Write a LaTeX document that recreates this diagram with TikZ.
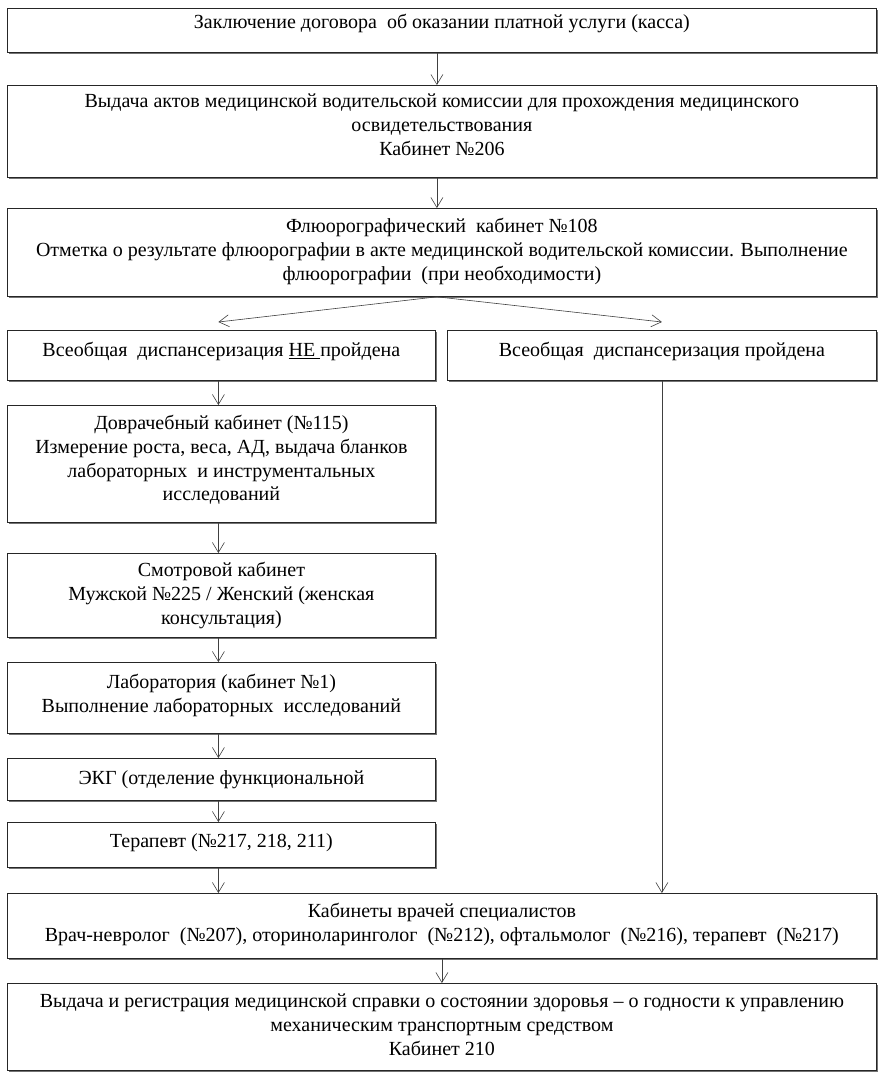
\documentclass[tikz,border=0pt]{standalone}
\usepackage{fontspec}
\setmainfont{Liberation Serif}
\usetikzlibrary{arrows.meta,shadows}
\begin{document}
\begin{tikzpicture}[x=1pt,y=-1pt,
  box/.style={draw=black!85, line width=0.8pt, fill=white, rectangle, inner sep=0pt, anchor=north west,
    drop shadow={shadow xshift=1.2pt, shadow yshift=-1.2pt, fill=black!55, opacity=1}},
  txt/.style={anchor=north, align=center, inner sep=0pt, font=\fontsize{20}{23.8}\selectfont},
  arr/.style={draw=black!75, line width=0.6pt, -{Straight Barb[length=10pt,width=12pt]}}]
\useasboundingbox (0,0) rectangle (883,1080);
\fill[white] (0,0) rectangle (883,1080);
% boxes
\node[box, minimum width=869pt, minimum height=44pt] (b1) at (7,8) {};
\node[box, minimum width=869pt, minimum height=92pt] (b2) at (7,85) {};
\node[box, minimum width=869pt, minimum height=88pt] (b3) at (7,208) {};
\node[box, minimum width=428pt, minimum height=50pt] (l1) at (7,330) {};
\node[box, minimum width=429pt, minimum height=50pt] (r1) at (447,330) {};
\node[box, minimum width=428pt, minimum height=117pt] (l2) at (7,405) {};
\node[box, minimum width=428pt, minimum height=84pt] (l3) at (7,553) {};
\node[box, minimum width=428pt, minimum height=71pt] (l4) at (7,662) {};
\node[box, minimum width=428pt, minimum height=42pt] (l5) at (7,758) {};
\node[box, minimum width=428pt, minimum height=45pt] (l6) at (7,822) {};
\node[box, minimum width=869pt, minimum height=65pt] (sp) at (7,893) {};
\node[box, minimum width=869pt, minimum height=87pt] (fin) at (7,983) {};
% texts
\node[txt] (t1) at ([yshift=-6pt]b1.north) {Заключение договора \ об оказании платной услуги (касса)};
\node[txt] (t2) at ([yshift=-9pt]b2.north) {Выдача актов медицинской водительской комиссии для прохождения медицинского\\освидетельствования\\Кабинет №206};
\node[txt] (t3) at ([yshift=-10pt]b3.north) {Флюорографический \ кабинет №108\\Отметка о результате флюорографии в акте медицинской водительской комиссии. Выполнение\\флюорографии \ (при необходимости)};
\node[txt] (tl1) at ([yshift=-12pt]l1.north) {Всеобщая \ диспансеризация \underline{НЕ\ }пройдена};
\node[txt] (tr1) at ([yshift=-12pt]r1.north) {Всеобщая \ диспансеризация пройдена};
\node[txt] (tl2) at ([yshift=-10pt]l2.north) {Доврачебный кабинет (№115)\\Измерение роста, веса, АД, выдача бланков\\лабораторных \ и инструментальных\\исследований};
\node[txt] (tl3) at ([yshift=-9pt]l3.north) {Смотровой кабинет\\Мужской №225 / Женский (женская\\консультация)};
\node[txt] (tl4) at ([yshift=-12pt]l4.north) {Лаборатория (кабинет №1)\\Выполнение лабораторных \ исследований};
\node[txt] (tl5) at ([yshift=-12pt]l5.north) {ЭКГ (отделение функциональной};
\node[txt] (tl6) at ([yshift=-11pt]l6.north) {Терапевт (№217, 218, 211)};
\node[txt] (tsp) at ([yshift=-10pt]sp.north) {Кабинеты врачей специалистов\\Врач-невролог \ (№207), оториноларинголог \ (№212), офтальмолог \ (№216), терапевт \ (№217)};
\node[txt] (tfin) at ([yshift=-11pt]fin.north) {Выдача и регистрация медицинской справки о состоянии здоровья – о годности к управлению\\механическим транспортным средством\\Кабинет 210};
% connectors
\coordinate (c1) at ([xshift=-5pt]b1.south);
\coordinate (c2) at ([xshift=-5pt]b2.south);
\coordinate (c3) at ([xshift=-5pt]b3.south);
\coordinate (tipL) at ([xshift=-3pt,yshift=8pt]l1.north);
\coordinate (tipR) at ([xshift=0pt,yshift=8pt]r1.north);
\draw[arr] (c1) -- (c1 |- b2.north);
\draw[arr] (c2) -- (c2 |- b3.north);
\draw[arr] (c3) -- (tipL);
\draw[arr] (c3) -- (tipR);
\coordinate (lx) at ([xshift=-3pt]l1.south);
\draw[arr] (lx) -- (lx |- l2.north);
\draw[arr] (lx |- l2.south) -- (lx |- l3.north);
\draw[arr] (lx |- l3.south) -- (lx |- l4.north);
\draw[arr] (lx |- l4.south) -- (lx |- l5.north);
\draw[arr] (lx |- l5.south) -- (lx |- l6.north);
\draw[arr] (lx |- l6.south) -- (lx |- sp.north);
\draw[arr] (r1.south) -- (r1.south |- sp.north);
\draw[arr] (sp.south) -- (fin.north);
\end{tikzpicture}
\end{document}
